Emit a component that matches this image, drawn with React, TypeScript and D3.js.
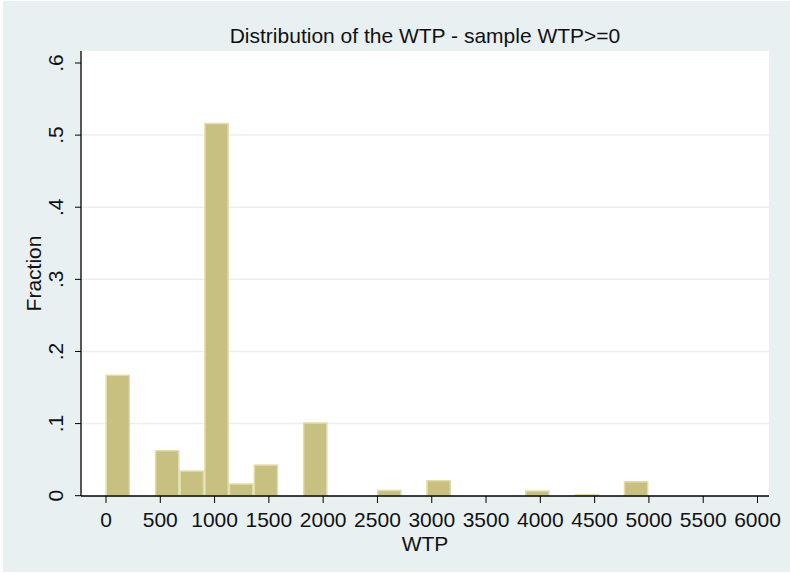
import React, { useEffect, useRef } from "react";
import * as d3 from "d3";

// histogram: 22 equal bins over WTP 0..5000 (Stata default bins)
const binCount = 22;
const binMin = 0;
const binMax = 5000;
// fraction of the sample in each bin
const fractions = [
  0.168, 0, 0.0634, 0.0352, 0.517, 0.0172, 0.0435, 0, 0.1018, 0, 0, 0.0083,
  0, 0.0218, 0, 0, 0, 0.0075, 0, 0.0024, 0, 0.0204,
];
const xTicks = [0, 500, 1000, 1500, 2000, 2500, 3000, 3500, 4000, 4500, 5000, 5500, 6000];
const yTicks = [0, 0.1, 0.2, 0.3, 0.4, 0.5, 0.6];
const yTickLabels = ["0", ".1", ".2", ".3", ".4", ".5", ".6"];

const W = 790;
const H = 573;
const FONT = "'Liberation Sans', Arial, sans-serif";
const FS = 21;

export default function App() {
  const svgRef = useRef<SVGSVGElement>(null);

  useEffect(() => {
    document.body.style.margin = "0";
    if (!svgRef.current) return;
    const svg = d3.select(svgRef.current);
    svg.selectAll("*").remove();

    // plot region
    const left = 81;
    const right = 769;
    const top = 51;
    const bottom = 496;

    const x = d3.scaleLinear().domain([0, 6000]).range([106, 757.5]);
    const y = d3.scaleLinear().domain([0, 0.6]).range([495.7, 63]);

    // outer background
    svg.append("rect").attr("width", W).attr("height", H).attr("fill", "#fff");
    svg
      .append("rect")
      .attr("x", 3)
      .attr("y", 1)
      .attr("width", W - 3)
      .attr("height", H - 2)
      .attr("fill", "#e8f0f2");
    svg
      .append("rect")
      .attr("x", left)
      .attr("y", top)
      .attr("width", right - left)
      .attr("height", bottom - top)
      .attr("fill", "#fff");

    // gridlines
    svg
      .append("g")
      .selectAll("line")
      .data(yTicks.filter((t) => t > 0 && t < 0.6))
      .join("line")
      .attr("x1", left)
      .attr("x2", right)
      .attr("y1", (d) => y(d))
      .attr("y2", (d) => y(d))
      .attr("stroke", "#e8f0f2")
      .attr("stroke-width", 1.5);

    // bars
    const bw = (binMax - binMin) / binCount;
    const bins = fractions.map((f, i) => ({
      x0: binMin + i * bw,
      x1: binMin + (i + 1) * bw,
      f,
    }));
    svg
      .append("g")
      .selectAll("rect")
      .data(bins.filter((b) => b.f > 0))
      .join("rect")
      .attr("x", (d) => x(d.x0) - 0.5 + 0.75)
      .attr("y", (d) => y(d.f) + 0.75)
      .attr("width", (d) => x(d.x1) - x(d.x0) - 1.5)
      .attr("height", (d) => Math.max(0, y(0) - y(d.f) - 0.75))
      .attr("fill", "#c8c080")
      .attr("stroke", "#e2dca8")
      .attr("stroke-width", 1.5);

    // y axis
    const ya = svg.append("g");
    ya.append("line")
      .attr("x1", left)
      .attr("x2", left)
      .attr("y1", top)
      .attr("y2", bottom)
      .attr("stroke", "#000")
      .attr("stroke-width", 1.3);
    yTicks.forEach((t, i) => {
      ya.append("line")
        .attr("x1", left - 6)
        .attr("x2", left)
        .attr("y1", y(t))
        .attr("y2", y(t))
        .attr("stroke", "#000")
        .attr("stroke-width", 1);
      ya.append("text")
        .attr("transform", `translate(63,${y(t)}) rotate(-90)`)
        .attr("text-anchor", "middle")
        .attr("font-family", FONT)
        .attr("font-size", FS)
        .attr("fill", "#111")
        .text(yTickLabels[i]);
    });

    // x axis
    const xa = svg.append("g");
    xa.append("line")
      .attr("x1", left)
      .attr("x2", right)
      .attr("y1", bottom)
      .attr("y2", bottom)
      .attr("stroke", "#000")
      .attr("stroke-width", 1.3);
    xTicks.forEach((t) => {
      xa.append("line")
        .attr("x1", x(t))
        .attr("x2", x(t))
        .attr("y1", bottom)
        .attr("y2", bottom + 7)
        .attr("stroke", "#000")
        .attr("stroke-width", 1);
      xa.append("text")
        .attr("x", x(t))
        .attr("y", 527)
        .attr("text-anchor", "middle")
        .attr("font-family", FONT)
        .attr("font-size", FS)
        .attr("fill", "#111")
        .text(String(t));
    });

    // titles
    svg
      .append("text")
      .attr("x", (left + right) / 2)
      .attr("y", 43)
      .attr("text-anchor", "middle")
      .attr("font-family", FONT)
      .attr("font-size", FS)
      .attr("fill", "#111")
      .text("Distribution of the WTP - sample WTP>=0");
    svg
      .append("text")
      .attr("x", (left + right) / 2)
      .attr("y", 551)
      .attr("text-anchor", "middle")
      .attr("font-family", FONT)
      .attr("font-size", FS)
      .attr("fill", "#111")
      .text("WTP");
    svg
      .append("text")
      .attr("transform", `translate(41,${(top + bottom) / 2}) rotate(-90)`)
      .attr("text-anchor", "middle")
      .attr("font-family", FONT)
      .attr("font-size", FS)
      .attr("fill", "#111")
      .text("Fraction");
  }, []);

  return <svg ref={svgRef} width={W} height={H} style={{ display: "block" }} />;
}
